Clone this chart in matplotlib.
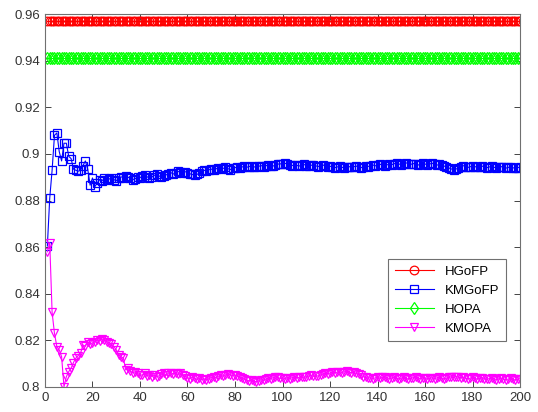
import matplotlib
matplotlib.use("Agg")
import matplotlib.pyplot as plt
import numpy as np

plt.rcParams['font.family'] = ['Liberation Sans', 'DejaVu Sans']

# iteration index
iters = np.arange(1, 201)

hgofp_level = 0.9572
hopa_level = 0.9411

kmgofp = [
    0.8605, 0.8810, 0.8930, 0.9080, 0.9090, 0.9010, 0.8970, 0.9046, 0.9046, 0.8990,
    0.8980, 0.8935, 0.8930, 0.8926, 0.8930, 0.8950, 0.8970, 0.8935, 0.8866, 0.8897,
    0.8860, 0.8875, 0.8890, 0.8885, 0.8895, 0.8888, 0.8892, 0.8898, 0.8890, 0.8885,
    0.8895, 0.8902, 0.8898, 0.8905, 0.8900, 0.8896, 0.8890, 0.8894, 0.8900, 0.8898,
    0.8905, 0.8910, 0.8902, 0.8896, 0.8901, 0.8908, 0.8912, 0.8906, 0.8900, 0.8904,
    0.8910, 0.8916, 0.8920, 0.8914, 0.8918, 0.8925, 0.8922, 0.8918, 0.8924, 0.8920,
    0.8915, 0.8912, 0.8908, 0.8912, 0.8918, 0.8925, 0.8930, 0.8927, 0.8932, 0.8935,
    0.8930, 0.8936, 0.8940, 0.8934, 0.8938, 0.8942, 0.8937, 0.8933, 0.8938, 0.8941,
    0.8945, 0.8940, 0.8944, 0.8948, 0.8943, 0.8946, 0.8950, 0.8945, 0.8942, 0.8947,
    0.8950, 0.8946, 0.8949, 0.8953, 0.8950, 0.8948, 0.8952, 0.8956, 0.8958, 0.8955,
    0.8960, 0.8957, 0.8953, 0.8950, 0.8954, 0.8951, 0.8948, 0.8952, 0.8955, 0.8950,
    0.8947, 0.8951, 0.8954, 0.8949, 0.8946, 0.8950, 0.8953, 0.8948, 0.8944, 0.8947,
    0.8945, 0.8941, 0.8944, 0.8947, 0.8943, 0.8940, 0.8943, 0.8946, 0.8942, 0.8945,
    0.8948, 0.8944, 0.8941, 0.8945, 0.8949, 0.8946, 0.8950, 0.8953, 0.8949, 0.8952,
    0.8956, 0.8952, 0.8949, 0.8953, 0.8957, 0.8954, 0.8958, 0.8961, 0.8957, 0.8954,
    0.8958, 0.8962, 0.8958, 0.8955, 0.8959, 0.8956, 0.8952, 0.8956, 0.8960, 0.8957,
    0.8953, 0.8957, 0.8960, 0.8956, 0.8952, 0.8955, 0.8951, 0.8948, 0.8945, 0.8940,
    0.8936, 0.8932, 0.8935, 0.8939, 0.8945, 0.8950, 0.8946, 0.8942, 0.8945, 0.8949,
    0.8946, 0.8942, 0.8945, 0.8948, 0.8944, 0.8941, 0.8944, 0.8947, 0.8943, 0.8940,
    0.8943, 0.8946, 0.8942, 0.8939, 0.8942, 0.8945, 0.8941, 0.8938, 0.8941, 0.8944,
]

kmopa = [
    0.8580, 0.8620, 0.8320, 0.8230, 0.8173, 0.8159, 0.8130, 0.8001, 0.8044, 0.8066,
    0.8081, 0.8105, 0.8124, 0.8135, 0.8146, 0.8180, 0.8175, 0.8194, 0.8185, 0.8189,
    0.8195, 0.8201, 0.8198, 0.8206, 0.8203, 0.8194, 0.8190, 0.8185, 0.8173, 0.8160,
    0.8137, 0.8130, 0.8124, 0.8073, 0.8080, 0.8068, 0.8060, 0.8066, 0.8058, 0.8052,
    0.8051, 0.8058, 0.8048, 0.8053, 0.8045, 0.8050, 0.8043, 0.8048, 0.8055, 0.8058,
    0.8050, 0.8060, 0.8062, 0.8056, 0.8060, 0.8054, 0.8058, 0.8050, 0.8046, 0.8040,
    0.8036, 0.8042, 0.8038, 0.8033, 0.8037, 0.8031, 0.8035, 0.8030, 0.8036, 0.8040,
    0.8044, 0.8040, 0.8046, 0.8050, 0.8047, 0.8052, 0.8056, 0.8053, 0.8049, 0.8051,
    0.8047, 0.8043, 0.8038, 0.8034, 0.8030, 0.8026, 0.8030, 0.8024, 0.8023, 0.8027,
    0.8031, 0.8028, 0.8034, 0.8038, 0.8035, 0.8040, 0.8044, 0.8041, 0.8037, 0.8040,
    0.8036, 0.8039, 0.8036, 0.8040, 0.8043, 0.8039, 0.8042, 0.8045, 0.8041, 0.8044,
    0.8047, 0.8050, 0.8046, 0.8049, 0.8047, 0.8052, 0.8055, 0.8058, 0.8056, 0.8060,
    0.8063, 0.8060, 0.8064, 0.8066, 0.8062, 0.8065, 0.8068, 0.8064, 0.8061, 0.8063,
    0.8058, 0.8054, 0.8050, 0.8045, 0.8041, 0.8038, 0.8040, 0.8036, 0.8039, 0.8042,
    0.8038, 0.8041, 0.8044, 0.8040, 0.8036, 0.8039, 0.8042, 0.8038, 0.8035, 0.8038,
    0.8041, 0.8037, 0.8034, 0.8037, 0.8040, 0.8043, 0.8039, 0.8036, 0.8040, 0.8037,
    0.8034, 0.8037, 0.8040, 0.8036, 0.8039, 0.8042, 0.8038, 0.8035, 0.8038, 0.8041,
    0.8044, 0.8041, 0.8045, 0.8042, 0.8039, 0.8042, 0.8038, 0.8035, 0.8038, 0.8041,
    0.8037, 0.8034, 0.8037, 0.8040, 0.8036, 0.8033, 0.8036, 0.8039, 0.8035, 0.8032,
    0.8035, 0.8038, 0.8034, 0.8031, 0.8034, 0.8037, 0.8033, 0.8030, 0.8033, 0.8036,
]

hgofp = np.full(len(iters), hgofp_level)
hopa = np.full(len(iters), hopa_level)

fig = plt.figure(figsize=(5.38, 4.12), dpi=100)
ax = fig.add_axes([0.0836, 0.0607, 0.883, 0.905])

lw = 0.8
ms = 6.2
mew = 0.9
ax.plot(iters, hgofp, '-o', color='#ff0000', mfc='none', lw=lw, ms=ms, mew=mew, label='HGoFP')
ax.plot(iters, kmgofp, '-s', color='#0000ff', mfc='none', lw=lw, ms=ms - 0.5, mew=mew, label='KMGoFP')
ax.plot(iters, hopa, '-d', color='#00ff00', mfc='none', lw=lw, ms=ms, mew=mew, label='HOPA')
ax.plot(iters, kmopa, '-v', color='#ff00ff', mfc='none', lw=lw, ms=ms, mew=mew, label='KMOPA')

ax.set_xlim(0, 200)
ax.set_ylim(0.8, 0.96)
ax.set_xticks(np.arange(0, 201, 20))
ax.set_yticks(np.arange(0.8, 0.961, 0.02))
ax.set_yticklabels(['0.8', '0.82', '0.84', '0.86', '0.88', '0.9', '0.92', '0.94', '0.96'])

for s in ax.spines.values():
    s.set_color('#707070')
    s.set_linewidth(0.8)
ax.tick_params(direction='in', top=True, right=True, length=4, width=0.6,
               color='#262626', labelsize=9.5, labelcolor='#333333')

leg = ax.legend(loc='lower right', bbox_to_anchor=(0.97, 0.123), borderaxespad=0,
                fontsize=9.5, fancybox=False, framealpha=1, edgecolor='#707070',
                handlelength=3, borderpad=0.5, labelspacing=0.5)
leg.get_frame().set_linewidth(0.8)

fig.savefig('out.png', dpi=100)
